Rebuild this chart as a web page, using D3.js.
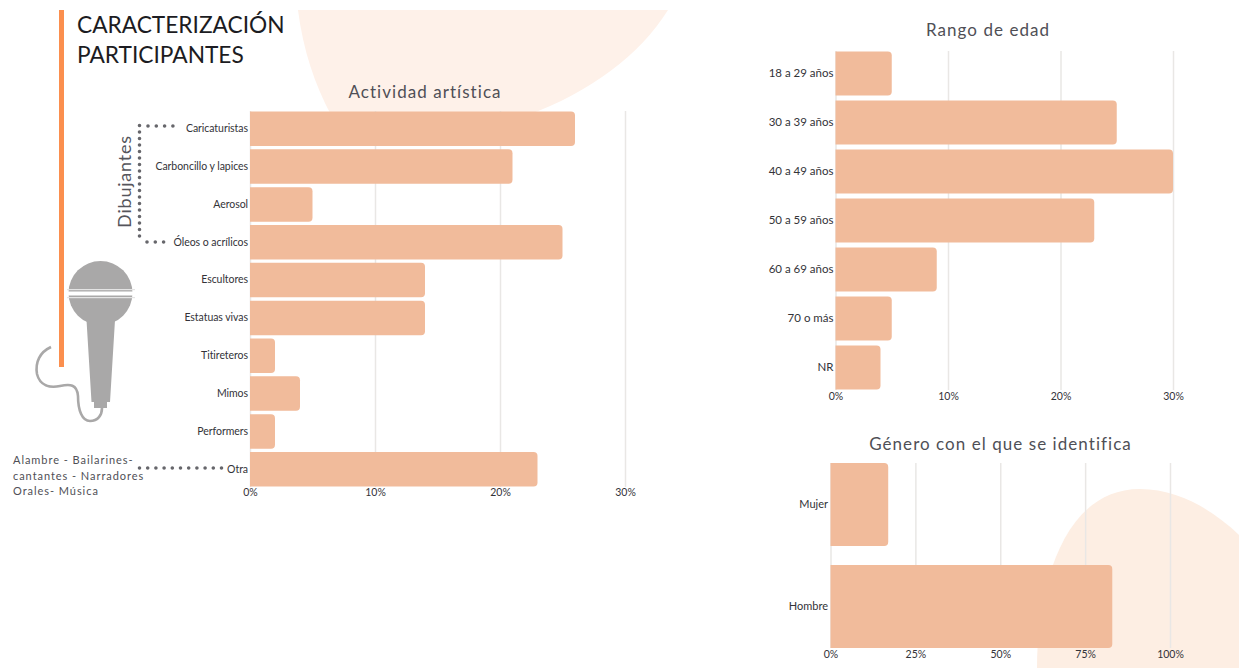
<!DOCTYPE html>
<html>
<head>
<meta charset="utf-8">
<script src="https://cdn.jsdelivr.net/npm/d3@7"></script>
<style>
  html, body { margin: 0; padding: 0; background: #fff; }
  svg { display: block; }
  text { font-family: Lato, "Open Sans", sans-serif; }
</style>
</head>
<body>
<div id="svg-container"></div>
<script>
var activityNames = ['Caricaturistas', 'Carboncillo y lapices', 'Aerosol', 'Óleos o acrílicos', 'Escultores',
  'Estatuas vivas', 'Titireteros', 'Mimos', 'Performers', 'Otra'];
var activityValues = [26, 21, 5, 25, 14, 14, 2, 4, 2, 23];
var activityTicks = [0, 10, 20, 30];

var ageNames = ['18 a 29 años', '30 a 39 años', '40 a 49 años', '50 a 59 años', '60 a 69 años', '70 o más', 'NR'];
var ageValues = [5, 25, 30, 23, 9, 5, 4];
var ageTicks = [0, 10, 20, 30];

var genderNames = ['Mujer', 'Hombre'];
var genderValues = [17, 83];
var genderTicks = [0, 25, 50, 75, 100];

var noteLines = ['Alambre - Bailarines-', 'cantantes - Narradores', 'Orales- Música'];

var w = 1239;
var h = 668;
var barColor = '#f1bb9b';
var gridColor = '#e9e7e5';
var labelColor = '#333338';
var titleColor = '#4f4f56';

var svg = d3.select('#svg-container')
  .append('svg')
  .attr('width', w)
  .attr('height', h)
  .style('background', 'white');

// background blobs
svg.append('path')
  .attr('d', 'M298,10 C303,50 315,85 331,115 L528,115 C590,92 640,55 668,10 Z')
  .style('fill', '#fef1e9');
svg.append('path')
  .attr('d', 'M1037,668 C1037,590 1062,489 1140,489 C1180,489 1215,512 1239,535 L1239,668 Z')
  .style('fill', '#fdeee3');

// bar with rounded right end
function barPath(x0, x1, y, bh) {
  var r = 4;
  return 'M' + x0 + ',' + y + 'H' + (x1 - r) + 'Q' + x1 + ',' + y + ' ' + x1 + ',' + (y + r) +
    'V' + (y + bh - r) + 'Q' + x1 + ',' + (y + bh) + ' ' + (x1 - r) + ',' + (y + bh) + 'H' + x0 + 'Z';
}

function drawChart(c) {
  var x = d3.scaleLinear().domain(c.domain).range(c.xRange);
  var y = d3.scaleBand().domain(c.names).range(c.yRange).paddingInner(c.pad).paddingOuter(c.pad / 2);
  var g = svg.append('g');

  // the axis ticks double as the grid lines
  var xAxis = g.append('g')
    .attr('transform', 'translate(0,' + c.gridBottom + ')')
    .call(d3.axisBottom(x).tickValues(c.ticks).tickSize(-(c.gridBottom - c.gridTop)).tickPadding(c.xPad)
      .tickFormat(function(d) { return d + '%'; }));
  xAxis.select('.domain').remove();
  xAxis.selectAll('line').style('stroke', gridColor).style('stroke-width', 1.5);
  xAxis.selectAll('text')
    .style('font-size', '10.5px')
    .style('fill', labelColor);

  g.selectAll('path.bar')
    .data(c.values)
    .enter()
    .append('path')
    .attr('class', 'bar')
    .attr('d', function(d, i) {
      return barPath(x(0), x(d), y(c.names[i]), y.bandwidth());
    })
    .style('fill', barColor);

  var yAxis = g.append('g')
    .attr('transform', 'translate(' + x(0) + ',0)')
    .call(d3.axisLeft(y).tickSize(0).tickPadding(c.yPad));
  yAxis.select('.domain').remove();
  yAxis.selectAll('text')
    .style('font-size', c.labelSize + 'px')
    .style('letter-spacing', c.labelSpacing + 'px')
    .style('fill', labelColor);

  g.append('text')
    .text(c.title)
    .attr('x', c.titleX)
    .attr('y', c.titleY)
    .attr('text-anchor', 'middle')
    .style('font-size', '17px')
    .style('letter-spacing', '1.05px')
    .style('fill', titleColor);
}

drawChart({
  title: 'Actividad artística', titleX: 425, titleY: 98,
  names: activityNames, values: activityValues, ticks: activityTicks,
  domain: [0, 30], xRange: [250, 625], yRange: [109.8, 488.2], pad: 0.088,
  gridTop: 111, gridBottom: 487, xPad: 2, yPad: 2, labelSize: 10.5, labelSpacing: -0.05
});
drawChart({
  title: 'Rango de edad', titleX: 988, titleY: 36,
  names: ageNames, values: ageValues, ticks: ageTicks,
  domain: [0, 30], xRange: [835.5, 1173], yRange: [49, 392], pad: 0.1,
  gridTop: 51, gridBottom: 390, xPad: 2.5, yPad: 2, labelSize: 11.5, labelSpacing: 0
});
drawChart({
  title: 'Género con el que se identifica', titleX: 1000.5, titleY: 450,
  names: genderNames, values: genderValues, ticks: genderTicks,
  domain: [0, 100], xRange: [830.5, 1170], yRange: [453.5, 657.5], pad: 0.186,
  gridTop: 463, gridBottom: 648, xPad: 3, yPad: 2.5, labelSize: 11, labelSpacing: 0
});

// page heading and its orange rule
svg.append('rect').attr('x', 59).attr('y', 10).attr('width', 5).attr('height', 357).style('fill', '#fb8f4e');
svg.selectAll('text.heading')
  .data(['CARACTERIZACIÓN', 'PARTICIPANTES'])
  .enter()
  .append('text')
  .attr('class', 'heading')
  .text(function(d) { return d; })
  .attr('x', 77)
  .attr('y', function(d, i) { return 33 + i * 30; })
  .style('font-size', '22.7px')
  .style('fill', '#1c1c22');

// dotted brackets
var dots = svg.append('g')
  .style('fill', 'none')
  .style('stroke', '#66666b')
  .style('stroke-width', 3.6)
  .style('stroke-linecap', 'round');
dots.append('path').attr('d', 'M139.5,125.5 V242').style('stroke-dasharray', '0 6.5');
dots.append('path').attr('d', 'M148,126 H176').style('stroke-dasharray', '0 8.3');
dots.append('path').attr('d', 'M147,242 H166').style('stroke-dasharray', '0 8.3');
dots.append('path').attr('d', 'M139.5,468 H222').style('stroke-dasharray', '0 8.2');

svg.append('text')
  .text('Dibujantes')
  .attr('transform', 'translate(130.5,181.5) rotate(-90)')
  .attr('text-anchor', 'middle')
  .style('font-size', '18px')
  .style('letter-spacing', '0.8px')
  .style('fill', '#55555b');

svg.selectAll('text.note')
  .data(noteLines)
  .enter()
  .append('text')
  .attr('class', 'note')
  .text(function(d) { return d; })
  .attr('x', 13)
  .attr('y', function(d, i) { return 464 + i * 15.7; })
  .style('font-size', '11px')
  .style('letter-spacing', '0.95px')
  .style('fill', '#4f4f56');

// microphone
var mic = svg.append('g').style('fill', '#a9a8a8');
mic.append('circle').attr('cx', 100.5).attr('cy', 293).attr('r', 32);
mic.append('path').attr('d', 'M86.5,320 L115,320 L110,402 L107,402 L107,408 L94,408 L94,402 L91.5,402 Z');
mic.append('rect').attr('x', 67).attr('y', 291.5).attr('width', 68).attr('height', 4).style('fill', '#fff');
mic.append('rect').attr('x', 67).attr('y', 289).attr('width', 68).attr('height', 1.2).style('fill', '#e4e4e4');
mic.append('rect').attr('x', 67).attr('y', 297).attr('width', 68).attr('height', 1.2).style('fill', '#e4e4e4');
svg.append('path')
  .attr('d', 'M51,347 C40,352 35,362 37,374 C40,386 50,388 60,386 C70,384 77,384 78,396 C78,410 82,421 90,421 C98,421 102,415 102,408')
  .style('fill', 'none')
  .style('stroke', '#a9a8a8')
  .style('stroke-width', 2.6);
</script>
</body>
</html>
